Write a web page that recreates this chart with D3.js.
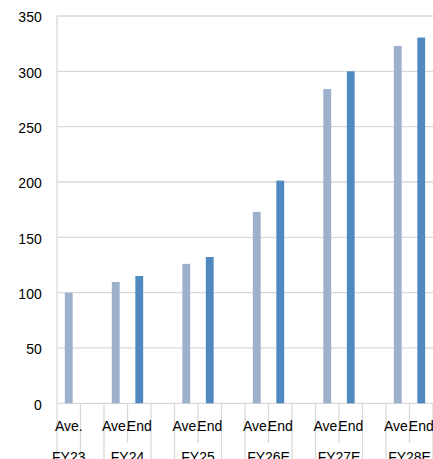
<!DOCTYPE html>
<html>
<head>
<meta charset="utf-8">
<script src="https://cdn.jsdelivr.net/npm/d3@7"></script>
<style>
  html, body { margin: 0; padding: 0; background: #fff; }
  svg { display: block; }
  text { font-family: "Liberation Sans", Arial, sans-serif; fill: #000; }
</style>
</head>
<body>
<svg id="chart" width="433" height="459"></svg>
<script>
// ---- data ----
const years = ["FY23", "FY24", "FY25", "FY26E", "FY27E", "FY28E"];
const aveValues = [100, 109.6, 126, 173, 284, 323];
const endValues = [null, 115, 132.2, 201.2, 300, 330.5];
const subLabels = ["Ave.", "End"];
const yTicks = [0, 50, 100, 150, 200, 250, 300, 350];

(function () {
  // ---- slots: each year gets Ave/End slots, then a spacer slot ----
  const slots = [];
  years.forEach((yr, i) => {
    slots.push({ key: yr + "-ave", year: yr, kind: "ave", value: aveValues[i], label: subLabels[0], first: true });
    if (endValues[i] !== null) {
      slots.push({ key: yr + "-end", year: yr, kind: "end", value: endValues[i], label: subLabels[1], first: false });
    }
    if (i < years.length - 1) {
      slots.push({ key: yr + "-gap", year: null, kind: "gap", value: null, label: "", first: true });
    }
  });

  const svg = d3.select("#chart");
  const H = 459;
  const mLeft = 57, mRight = 433, mTop = 16, mBottom = 403.3;

  const x = d3.scaleBand().domain(slots.map(d => d.key)).range([mLeft, mRight]).padding(0);
  const y = d3.scaleLinear().domain([0, 350]).range([mBottom, mTop]);

  const gridColor = "#d9d9d9";

  // gridlines
  svg.append("g").selectAll("line").data(yTicks).join("line")
    .attr("x1", mLeft).attr("x2", mRight)
    .attr("y1", d => y(d)).attr("y2", d => y(d))
    .attr("stroke", gridColor).attr("stroke-width", 1.3);

  // y labels
  svg.append("g").selectAll("text").data(yTicks).join("text")
    .attr("transform", d => `translate(41.7,${y(d) + 6.3}) scale(1,1.1)`)
    .attr("text-anchor", "end")
    .attr("font-size", 14)
    .text(d => d);

  // left axis line (extends through category area)
  svg.append("line")
    .attr("x1", mLeft).attr("x2", mLeft).attr("y1", mTop).attr("y2", H)
    .attr("stroke", gridColor).attr("stroke-width", 1.3);

  // category separators
  const seps = slots.slice(1).map(d => ({ pos: x(d.key), long: d.first }));
  seps.push({ pos: mRight, long: true });
  svg.append("g").selectAll("line").data(seps).join("line")
    .attr("x1", d => d.pos).attr("x2", d => d.pos)
    .attr("y1", mBottom).attr("y2", d => d.long ? H : 443)
    .attr("stroke", gridColor).attr("stroke-width", 1.3);

  // bars
  const barW = x.bandwidth() / 3;
  const colors = { ave: "#9db1cd", end: "#4f89c0" };
  svg.append("g").selectAll("rect").data(slots.filter(d => d.value !== null)).join("rect")
    .attr("x", d => x(d.key) + (x.bandwidth() - barW) / 2)
    .attr("width", barW)
    .attr("y", d => y(d.value))
    .attr("height", d => y(0) - y(d.value))
    .attr("fill", d => colors[d.kind]);

  // sub labels
  svg.append("g").selectAll("text").data(slots.filter(d => d.label)).join("text")
    .attr("transform", d => `translate(${x(d.key) + x.bandwidth() / 2},430.6) scale(1,1.1)`)
    .attr("text-anchor", "middle")
    .attr("font-size", 14)
    .text(d => d.label);

  // year labels
  svg.append("g").selectAll("text").data(years).join("text")
    .attr("transform", yr => {
      const s = slots.filter(d => d.year === yr);
      const x0 = x(s[0].key), x1 = x(s[s.length - 1].key) + x.bandwidth();
      return `translate(${(x0 + x1) / 2},461.6) scale(1,1.1)`;
    })
    .attr("text-anchor", "middle")
    .attr("font-size", 14)
    .text(d => d);
})();
</script>
</body>
</html>
